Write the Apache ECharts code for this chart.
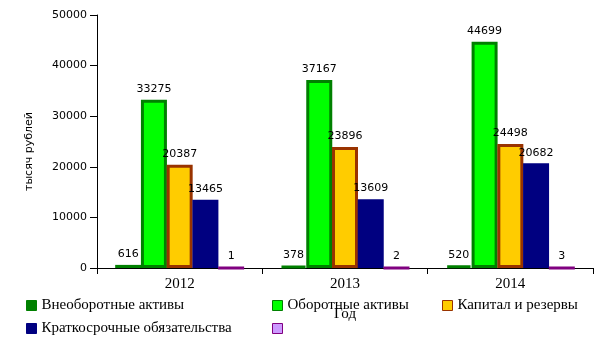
<!DOCTYPE html>
<html>
<head>
<meta charset="utf-8">
<script src="https://cdn.jsdelivr.net/npm/echarts@6/dist/echarts.min.js"></script>
<style>html,body{margin:0;padding:0;background:#fff;}#c{width:605px;height:340px;}</style>
</head>
<body>
<div id="c"></div>
<script>
var years = ['2012', '2013', '2014'];
var seriesNames = ['Внеоборотные активы', 'Оборотные активы', 'Капитал и резервы', 'Краткосрочные обязательства', ' '];
var vneoborotnye = [616, 378, 520];
var oborotnye = [33275, 37167, 44699];
var kapital = [20387, 23896, 24498];
var kratkosrochnye = [13465, 13609, 20682];
var prochee = [1, 2, 3];
var yTicks = [0, 10000, 20000, 30000, 40000, 50000];

var fills = ['#008000', '#00ff00', '#ffcc00', '#000080', '#cc99ff'];
var borders = ['#008000', '#008000', '#993300', '#000080', '#800080'];
var values = [vneoborotnye, oborotnye, kapital, kratkosrochnye, prochee];

var legendPos = [[26, 298], [272, 298], [442, 298], [26, 321], [272, 321]];

var chart = echarts.init(document.getElementById('c'));
var series = values.map(function (v, i) {
  return {
    type: 'bar',
    name: seriesNames[i],
    data: v,
    barWidth: 26,
    barGap: '-1%',
    barCategoryGap: '21%',
    itemStyle: { color: fills[i], borderColor: borders[i], borderWidth: 3 },
    label: {
      show: true, position: 'top', distance: 5,
      fontFamily: 'DejaVu Sans', fontSize: 11, color: '#000'
    }
  };
});
var legends = seriesNames.map(function (n, i) {
  return {
    data: [n],
    left: legendPos[i][0], top: legendPos[i][1],
    padding: 0, itemWidth: 10, itemHeight: 10,
    icon: 'rect',
    itemStyle: { borderWidth: 1 },
    selectedMode: false,
    textStyle: { fontFamily: 'Liberation Serif', fontSize: 15, color: '#000' }
  };
});
chart.setOption({
  animation: false,
  backgroundColor: '#fff',
  grid: { left: 97, right: 12, top: 15, bottom: 72, containLabel: false },
  legend: legends,
  xAxis: {
    type: 'category', data: years,
    name: 'Год', nameLocation: 'middle', nameGap: 39,
    nameTextStyle: { fontFamily: 'Liberation Serif', fontSize: 15, color: '#000' },
    axisLine: { show: true, lineStyle: { color: '#000', width: 1 } },
    axisTick: { show: true, length: 6, lineStyle: { color: '#000' } },
    axisLabel: { margin: 9, fontFamily: 'Liberation Serif', fontSize: 15, color: '#000' },
    splitLine: { show: false }
  },
  yAxis: {
    type: 'value', min: yTicks[0], max: yTicks[yTicks.length - 1], interval: 10000,
    name: 'тысяч рублей', nameLocation: 'middle', nameGap: 62, nameRotate: 90,
    nameTextStyle: { fontFamily: 'DejaVu Sans', fontSize: 11, color: '#000', padding: [0, 20, 0, 0] },
    axisLine: { show: true, lineStyle: { color: '#000', width: 1 } },
    axisTick: { show: true, length: 7, lineStyle: { color: '#000' } },
    axisLabel: {
      margin: 10, fontFamily: 'DejaVu Sans', fontSize: 11, color: '#000',
      formatter: function (v) { return String(v); }
    },
    splitLine: { show: false }
  },
  series: series
});
</script>
</body>
</html>
